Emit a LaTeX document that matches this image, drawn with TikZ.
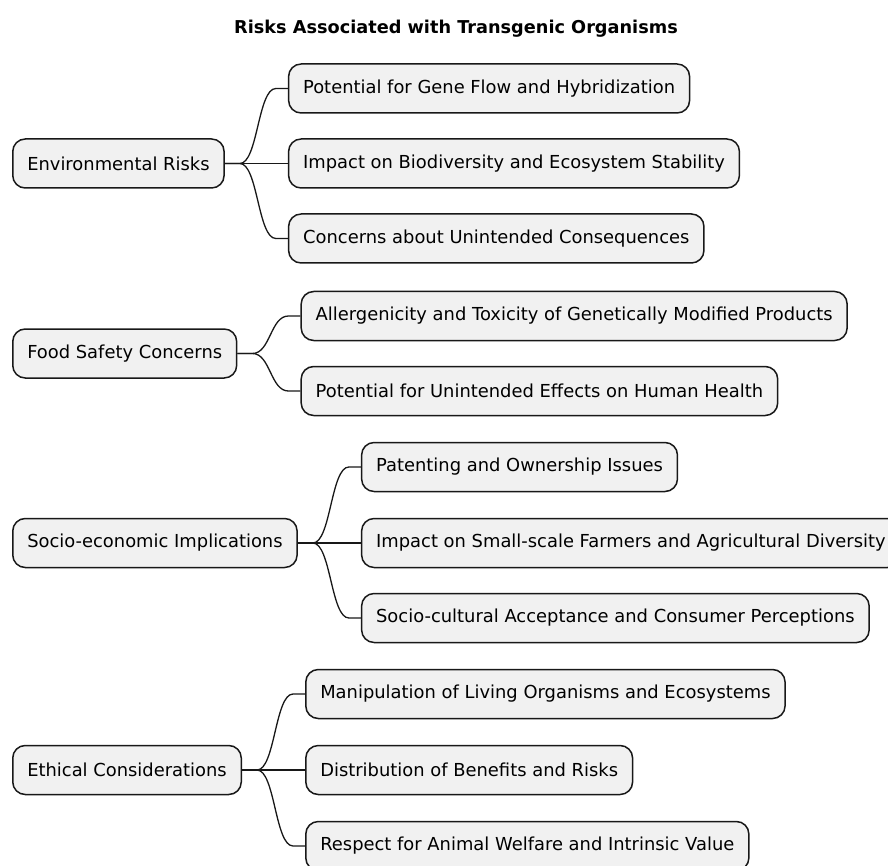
\documentclass[tikz,border=0pt]{standalone}
\usepackage{fontspec}
\setmainfont{DejaVu Sans}
\usetikzlibrary{calc}
\definecolor{boxfill}{HTML}{F1F1F1}
\definecolor{boxline}{HTML}{181818}
\tikzset{
  box/.style={draw=boxline, fill=boxfill, rounded corners=12.5pt, line width=1.5pt,
    minimum height=49pt, inner xsep=14.5pt, inner ysep=0pt,
    font=\fontsize{17.9}{21}\selectfont},
  child/.style={box, anchor=west},
  link/.style={draw=boxline, line width=1.3pt},
  ttl/.style={font=\bfseries\fontsize{17.7}{21}\selectfont}
}
\newcommand{\branch}[2]{%
  \draw[link] (#1.east) -- ($(#1.east)+(15,0)$)
    .. controls +(18,0) and +(-18,0) .. ($(#2.west)-(12,0)$) -- (#2.west);}
\begin{document}
\begin{tikzpicture}[x=1pt,y=-1pt]
\useasboundingbox (0,0) rectangle (888,866);
\node[ttl] (title) at (456,29) {Risks Associated with Transgenic Organisms};

% Environmental
\node[box, anchor=west] (env) at (12,163.5) {Environmental Risks};
\node[child] (env1) at ($(env.east)+(63,-75)$) {Potential for Gene Flow and Hybridization};
\node[child] (env2) at ($(env.east)+(63,0)$) {Impact on Biodiversity and Ecosystem Stability};
\node[child] (env3) at ($(env.east)+(63,75)$) {Concerns about Unintended Consequences};
\branch{env}{env1}\branch{env}{env2}\branch{env}{env3}

% Food safety
\node[box, anchor=west] (food) at (12,353.5) {Food Safety Concerns};
\node[child] (food1) at ($(food.east)+(63,-37.5)$) {Allergenicity and Toxicity of Genetically Modified Products};
\node[child] (food2) at ($(food.east)+(63,37.5)$) {Potential for Unintended Effects on Human Health};
\branch{food}{food1}\branch{food}{food2}

% Socio-economic
\node[box, anchor=west] (soc) at (12,543) {Socio-economic Implications};
\node[child] (soc1) at ($(soc.east)+(63,-76)$) {Patenting and Ownership Issues};
\node[child] (soc2) at ($(soc.east)+(63,0)$) {Impact on Small-scale Farmers and Agricultural Diversity};
\node[child] (soc3) at ($(soc.east)+(63,75)$) {Socio-cultural Acceptance and Consumer Perceptions};
\branch{soc}{soc1}\branch{soc}{soc2}\branch{soc}{soc3}

% Ethical
\node[box, anchor=west] (eth) at (12,770) {Ethical Considerations};
\node[child] (eth1) at ($(eth.east)+(63,-76)$) {Manipulation of Living Organisms and Ecosystems};
\node[child] (eth2) at ($(eth.east)+(63,0)$) {Distribution of Benefits and Risks};
\node[child] (eth3) at ($(eth.east)+(63,76)$) {Respect for Animal Welfare and Intrinsic Value};
\branch{eth}{eth1}\branch{eth}{eth2}\branch{eth}{eth3}
\end{tikzpicture}
\end{document}
